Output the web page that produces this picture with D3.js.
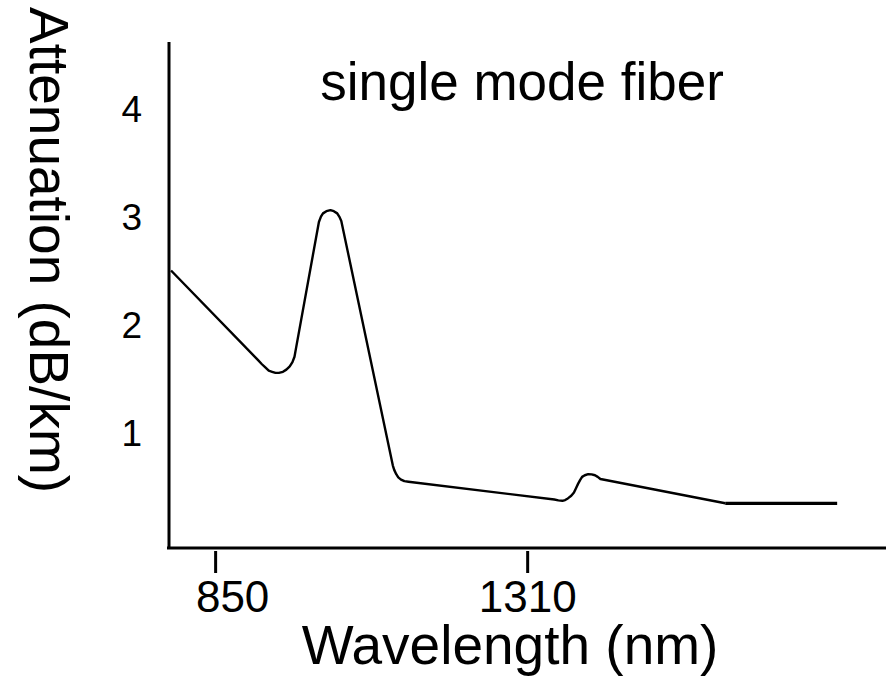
<!DOCTYPE html>
<html>
<head>
<meta charset="utf-8">
<script src="https://cdn.jsdelivr.net/npm/d3@7"></script>
<style>
  html, body { margin: 0; padding: 0; background: #fff; }
  svg { display: block; font-family: "Liberation Sans", Arial, Helvetica, sans-serif; }
</style>
</head>
<body>
<div id="chart"></div>
<script>
const width = 886;
const height = 678;

// data (wavelength in nm, attenuation in dB/km)
const wavelength = [785, 913, 919, 924, 929, 934, 939, 944, 950, 955, 960, 964, 967, 969,
  1003, 1006, 1009, 1014, 1020, 1025, 1030, 1033, 1036,
  1112, 1114, 1117, 1120, 1124, 1129, 1135,
  1350, 1356, 1362, 1366, 1370, 1375, 1379, 1382, 1385, 1388, 1391, 1395, 1400, 1405, 1410, 1414, 1418, 1602];
const attenuation = [2.51, 1.68, 1.64, 1.61, 1.58, 1.57, 1.56, 1.56, 1.57, 1.59, 1.62, 1.66, 1.71, 1.78,
  2.96, 3.01, 3.04, 3.06, 3.07, 3.06, 3.04, 3.01, 2.97,
  0.70, 0.66, 0.62, 0.59, 0.57, 0.555, 0.55,
  0.385, 0.377, 0.373, 0.38, 0.395, 0.42, 0.45, 0.49, 0.53, 0.565, 0.595, 0.61, 0.62, 0.618, 0.61, 0.595, 0.575, 0.35];
// flat tail drawn a little heavier
const tailWavelength = [1602, 1767];
const tailAttenuation = [0.35, 0.35];

const xTicks = [850, 1310];
const yTicks = [1, 2, 3, 4];

const title = "single mode fiber";
const xTitle = "Wavelength (nm)";
const yTitle = "Attenuation (dB/km)";

// ------------------
// layout
// ------------------
const axisX = 169;   // vertical axis line
const axisY = 548;   // horizontal axis line
const plotTop = 42;

const svg = d3.select("#chart")
  .append("svg")
  .attr("width", width)
  .attr("height", height);

const x = d3.scaleLinear().domain([782, 1839]).range([axisX, width]);
const y = d3.scaleLinear().domain([0, 4.63]).range([541, plotTop]);

// axis lines
svg.append("line")
  .attr("x1", axisX).attr("x2", axisX)
  .attr("y1", plotTop).attr("y2", axisY)
  .attr("stroke", "#000").attr("stroke-width", 3);

svg.append("line")
  .attr("x1", axisX - 2).attr("x2", width)
  .attr("y1", axisY).attr("y2", axisY)
  .attr("stroke", "#000").attr("stroke-width", 3);

// x axis ticks + labels
const gx = svg.append("g")
  .attr("transform", `translate(0,${axisY + 3})`)
  .call(d3.axisBottom(x).tickValues(xTicks).tickSize(22).tickPadding(8).tickFormat(d3.format("d")));
gx.select(".domain").remove();
gx.selectAll(".tick line").attr("stroke", "#000").attr("stroke-width", 3);
gx.selectAll(".tick text")
  .attr("fill", "#000")
  .style("font-family", "'Liberation Sans', Arial, sans-serif")
  .style("font-size", "44px")
  .attr("dx", (d, i) => i === 0 ? 17 : 0);

// y axis labels (no tick marks)
const gy = svg.append("g")
  .attr("transform", `translate(${axisX},0)`)
  .call(d3.axisLeft(y).tickValues(yTicks).tickSize(0).tickPadding(27).tickFormat(d3.format("d")));
gy.select(".domain").remove();
gy.selectAll(".tick text")
  .attr("fill", "#000")
  .style("font-family", "'Liberation Sans', Arial, sans-serif")
  .style("font-size", "37px");

// ------------------
// curve
// ------------------
const pts = wavelength.map((w, i) => [w, attenuation[i]]);
const tail = tailWavelength.map((w, i) => [w, tailAttenuation[i]]);

const line = d3.line()
  .x(d => x(d[0]))
  .y(d => y(d[1]));

svg.append("path")
  .datum(pts)
  .attr("d", line)
  .attr("fill", "none")
  .attr("stroke", "#000")
  .attr("stroke-width", 2.4)
  .attr("stroke-linejoin", "round");

svg.append("path")
  .datum(tail)
  .attr("d", line)
  .attr("fill", "none")
  .attr("stroke", "#000")
  .attr("stroke-width", 3.2);

// ------------------
// texts
// ------------------
svg.append("text")
  .attr("x", 522)
  .attr("y", 100)
  .attr("text-anchor", "middle")
  .style("font-size", "53px")
  .text(title);

svg.append("text")
  .attr("x", 510)
  .attr("y", 664)
  .attr("text-anchor", "middle")
  .style("font-size", "55px")
  .text(xTitle);

svg.append("text")
  .attr("transform", "translate(30,250) rotate(90)")
  .attr("text-anchor", "middle")
  .style("font-size", "55px")
  .text(yTitle);
</script>
</body>
</html>
